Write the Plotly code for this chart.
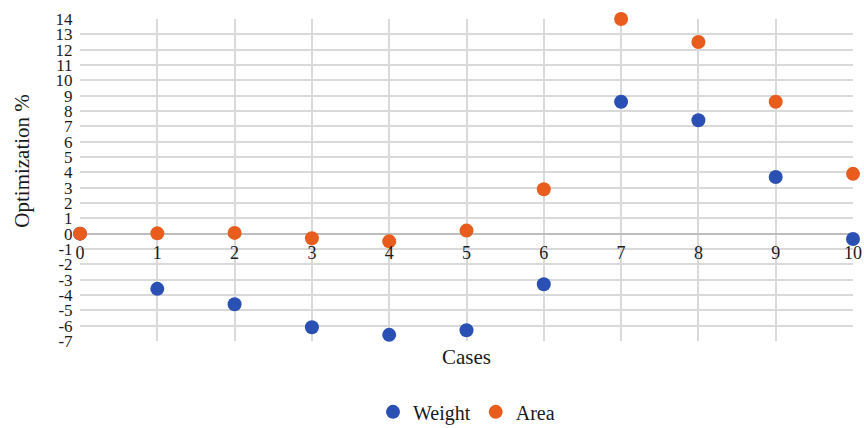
import plotly.graph_objects as go

cases = [0, 1, 2, 3, 4, 5, 6, 7, 8, 9, 10]
weight = [0, -3.6, -4.6, -6.1, -6.6, -6.3, -3.3, 8.6, 7.4, 3.7, -0.35]
area = [0, 0.02, 0.05, -0.3, -0.5, 0.2, 2.9, 14.0, 12.5, 8.6, 3.9]
y_ticks = list(range(-7, 15))
y_labels = [str(v) for v in y_ticks]
x_ticks = list(range(0, 11))

FONT = "Liberation Serif"

fig = go.Figure()
fig.add_trace(go.Scatter(x=cases, y=weight, mode="markers", name="Weight",
                         marker=dict(color="#2B50B4", size=14), cliponaxis=False))
fig.add_trace(go.Scatter(x=cases, y=area, mode="markers", name="Area",
                         marker=dict(color="#E85D1E", size=14), cliponaxis=False))

fig.update_layout(
    width=864, height=428,
    margin=dict(l=80, r=11, t=19, b=87, autoexpand=False),
    plot_bgcolor="white", paper_bgcolor="white",
    font=dict(family=FONT, color="#1a1a1a"),
    showlegend=True,
    legend=dict(orientation="h", x=0.5, xanchor="center", y=-0.22, yanchor="middle",
                font=dict(size=20, family=FONT), tracegroupgap=0, itemwidth=30),
    xaxis=dict(range=[0, 10], tickvals=x_ticks, showgrid=True, gridcolor="#d9d9d9", gridwidth=1.5,
               zeroline=False, showline=False, anchor="free", position=7/21, automargin=False,
               ticks="outside", ticklen=3, tickcolor="rgba(0,0,0,0)",
               tickfont=dict(size=18, family=FONT)),
    yaxis=dict(range=[-7, 14], tickvals=y_ticks, ticktext=y_labels, showgrid=True,
               gridcolor="#d9d9d9", gridwidth=1.5, automargin=False,
               zeroline=True, zerolinecolor="#bdbdbd", zerolinewidth=2, showline=False,
               ticks="outside", ticklen=3, tickcolor="rgba(0,0,0,0)",
               tickfont=dict(size=17, family=FONT)),
    annotations=[
        dict(text="Cases", xref="paper", yref="paper", x=0.5, y=-0.05, xanchor="center",
             yanchor="middle", showarrow=False, font=dict(size=21, family=FONT)),
        dict(text="Optimization %", xref="paper", yref="paper", x=-0.075, y=0.56,
             xanchor="center", yanchor="middle", textangle=-90, showarrow=False,
             font=dict(size=21, family=FONT)),
    ],
)

fig.write_html("out.html", config={"displayModeBar": False},
               post_script="document.body.style.margin='0';")
